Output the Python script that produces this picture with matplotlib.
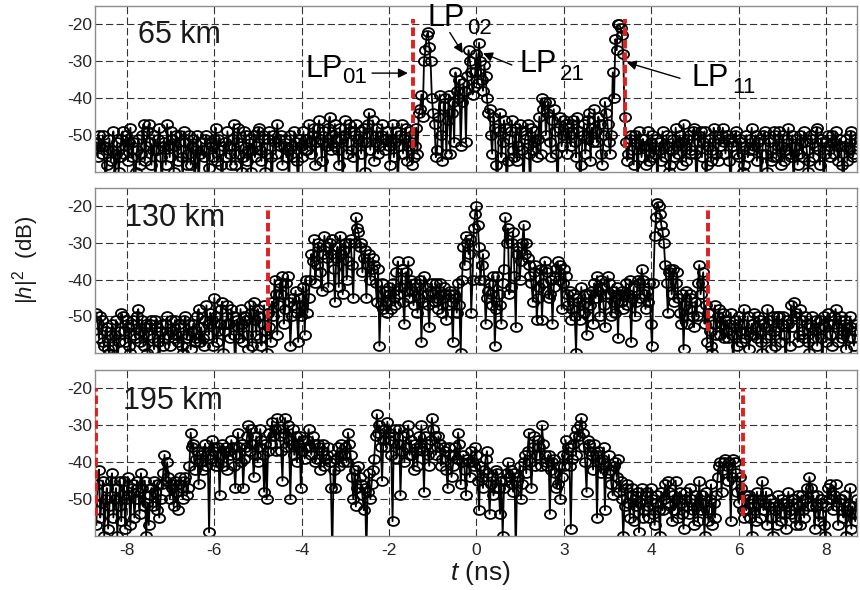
import numpy as np
import matplotlib.pyplot as plt
from matplotlib.path import Path
from matplotlib.transforms import Affine2D

plt.rcParams['font.family'] = ['Liberation Sans', 'DejaVu Sans']
plt.rcParams['mathtext.fontset'] = 'custom'
plt.rcParams['mathtext.rm'] = 'Liberation Sans'
plt.rcParams['mathtext.it'] = 'Liberation Sans:italic'
plt.rcParams['axes.unicode_minus'] = False

# time grid of the samples (ns); "mid" samples sit half a step after each main one
t_start = -8.7
t_step = 0.06

# |h|^2 in dB (values below -60 run off the bottom)
db_65 = [
    -52, -50, -55, -53, -58, -51, -54, -65, -52, -56,
    -49, -53, -57, -48, -52, -60, -51, -55, -47, -53,
    -47, -58, -50, -54, -48, -65, -52, -47, -56, -51,
    -53, -57, -50, -62, -52, -55, -58, -51, -54, -65,
    -52, -56, -50, -59, -53, -51, -57, -54, -65, -52,
    -49, -55, -51, -58, -48, -53, -56, -50, -54, -60,
    -50, -53, -48, -57, -51, -55, -49, -65, -52, -47,
    -53, -58, -51, -54, -50, -56, -52, -65, -53, -49,
    -51, -47, -55, -48, -52, -46, -57, -49, -53, -45,
    -50, -47, -54, -48, -65, -46, -52, -49, -56, -47,
    -51, -55, -48, -52, -44, -50, -57, -48, -53, -47,
    -54, -49, -58, -47, -52, -65, -50, -55, -48, -53,
    -52, -56, -48, -44, -39, -30, -23, -26, -40, -47,
    -54, -39, -57, -40, -46, -55, -41, -33, -40, -53,
    -36, -52, -27, -33, -37, -28, -25, -35, -31, -40,
    -43, -55, -48, -65, -44, -52, -48, -57, -49, -54,
    -48, -53, -49, -65, -50, -55, -48, -52, -56, -45,
    -40, -41, -44, -52, -46, -49, -65, -45, -50, -47,
    -48, -53, -46, -56, -49, -58, -47, -51, -44, -48,
    -43, -52, -47, -58, -41, -47, -55, -33, -24, -20,
    -21, -28, -52, -55, -50, -58, -52, -49, -56, -53,
    -53, -57, -50, -55, -65, -52, -49, -56, -53, -58,
    -51, -48, -55, -52, -47, -57, -50, -54, -48, -65,
    -52, -56, -49, -58, -51, -54, -50, -57, -53, -48,
    -55, -51, -65, -53, -49, -56, -52, -58, -50, -54,
    -48, -53, -57, -51, -55, -49, -60, -52, -56, -50,
    -53, -58, -50, -54, -48, -56, -65, -51, -55, -52,
    -49, -54, -57, -51, -53, -48, -58, -52, -55, -50,
    -56, -52, -49, -57, -53, -65, -51, -54, -49, -55,
    -52,
]
db_65_mid = [
    -56, -53, -50, -65, -54, -57, -49, -55, -60, -51,
    -55, -50, -52, -56, -65, -54, -58, -50, -57, -49,
    -52, -54, -65, -51, -56, -53, -58, -53, -49, -60,
    -50, -52, -56, -49, -58, -50, -53, -65, -50, -55,
    -54, -51, -65, -52, -56, -48, -51, -58, -53, -56,
    -53, -58, -47, -52, -55, -60, -49, -57, -51, -54,
    -56, -49, -54, -50, -60, -51, -56, -50, -55, -51,
    -50, -53, -56, -65, -53, -49, -57, -51, -56, -54,
    -54, -52, -50, -58, -48, -51, -52, -65, -48, -54,
    -53, -51, -58, -51, -50, -55, -47, -54, -50, -65,
    -49, -52, -60, -47, -54, -46, -52, -55, -50, -51,
    -51, -53, -52, -56, -49, -53, -47, -51, -57, -49,
    -58, -53, -55, -43, -45, -27, -22, -30, -44, -56,
    -45, -50, -42, -55, -39, -44, -52, -38, -35, -41,
    -38, -34, -30, -39, -33, -36, -30, -38, -34, -44,
    -50, -45, -58, -49, -56, -46, -65, -51, -46, -56,
    -57, -47, -54, -51, -47, -65, -54, -49, -51, -55,
    -43, -50, -41, -56, -43, -55, -48, -53, -46, -55,
    -50, -47, -52, -45, -65, -50, -55, -46, -57, -52,
    -49, -45, -55, -50, -44, -52, -50, -40, -27, -20,
    -23, -45, -57, -51, -54, -50, -65, -53, -51, -58,
    -49, -52, -56, -51, -54, -57, -53, -50, -60, -54,
    -56, -53, -50, -58, -53, -51, -55, -49, -55, -50,
    -49, -52, -65, -53, -57, -48, -55, -51, -50, -52,
    -50, -57, -52, -50, -55, -51, -60, -53, -56, -51,
    -54, -50, -52, -65, -50, -55, -51, -57, -49, -56,
    -49, -53, -57, -51, -55, -50, -53, -58, -50, -56,
    -52, -60, -50, -56, -49, -54, -51, -65, -52, -53,
    -50, -55, -53, -51, -58, -53, -57, -50, -56, -51,
]

db_130 = [
    -49, -56, -51, -58, -53, -60, -52, -55, -65, -54,
    -50, -57, -53, -60, -51, -56, -48, -54, -58, -52,
    -55, -51, -59, -53, -65, -52, -56, -50, -58, -54,
    -51, -57, -53, -60, -50, -55, -59, -52, -56, -48,
    -53, -58, -47, -55, -51, -45, -57, -52, -46, -54,
    -47, -56, -50, -65, -53, -48, -57, -51, -59, -49,
    -46, -55, -50, -58, -47, -60, -53, -46, -40, -55,
    -41, -39, -48, -39, -58, -45, -43, -57, -50, -42,
    -40, -45, -33, -29, -36, -31, -43, -28, -34, -30,
    -29, -46, -31, -28, -44, -30, -35, -29, -45, -23,
    -27, -30, -34, -45, -33, -37, -36, -46, -58, -41,
    -43, -49, -44, -41, -47, -35, -42, -46, -38, -35,
    -40, -47, -42, -45, -57, -39, -44, -53, -41, -46,
    -45, -41, -49, -44, -47, -43, -57, -45, -41, -60,
    -31, -28, -33, -49, -26, -20, -31, -36, -40, -45,
    -41, -47, -58, -39, -47, -41, -23, -26, -42, -27,
    -53, -31, -35, -25, -30, -36, -41, -38, -51, -42,
    -51, -35, -38, -44, -52, -39, -35, -36, -41, -39,
    -47, -51, -44, -60, -46, -42, -49, -55, -44, -43,
    -41, -39, -50, -42, -53, -39, -44, -43, -49, -56,
    -46, -48, -41, -44, -57, -42, -46, -41, -37, -44,
    -43, -41, -58, -28, -19, -22, -27, -36, -49, -37,
    -37, -41, -45, -52, -59, -43, -48, -45, -53, -50,
    -36, -41, -52, -57, -54, -60, -47, -50, -55, -49,
    -51, -56, -49, -65, -53, -50, -57, -48, -54, -59,
    -52, -49, -56, -51, -60, -53, -48, -55, -50, -58,
    -53, -57, -50, -65, -52, -47, -46, -49, -55, -51,
    -56, -52, -60, -50, -54, -58, -51, -65, -53, -49,
    -55, -52, -48, -57, -50, -54, -59, -56, -53, -58,
    -52,
]
db_130_mid = [
    -52, -50, -57, -54, -59, -55, -58, -51, -57, -49,
    -54, -51, -58, -52, -55, -50, -57, -51, -53, -60,
    -52, -56, -51, -57, -54, -58, -52, -55, -51, -56,
    -55, -52, -58, -51, -56, -52, -54, -57, -50, -57,
    -56, -51, -52, -49, -58, -50, -54, -48, -60, -52,
    -52, -48, -55, -51, -56, -52, -50, -55, -47, -58,
    -51, -48, -56, -52, -54, -49, -57, -50, -44, -47,
    -44, -52, -41, -46, -50, -47, -49, -45, -47, -55,
    -49, -40, -35, -41, -30, -38, -33, -31, -42, -33,
    -37, -34, -42, -33, -32, -40, -30, -36, -30, -26,
    -31, -38, -32, -36, -40, -34, -41, -37, -47, -48,
    -46, -42, -48, -45, -38, -44, -37, -52, -43, -45,
    -43, -41, -49, -40, -46, -42, -47, -43, -44, -41,
    -48, -44, -42, -51, -44, -46, -44, -49, -47, -40,
    -36, -30, -29, -40, -22, -25, -40, -33, -52, -43,
    -44, -39, -48, -44, -52, -37, -30, -44, -30, -39,
    -33, -40, -30, -33, -34, -39, -46, -36, -45, -37,
    -41, -37, -45, -40, -42, -37, -40, -48, -37, -44,
    -43, -48, -50, -45, -51, -47, -44, -50, -47, -52,
    -45, -43, -40, -47, -44, -41, -50, -46, -42, -44,
    -43, -44, -47, -40, -45, -50, -40, -45, -40, -48,
    -46, -52, -41, -23, -20, -25, -30, -41, -38, -44,
    -46, -38, -49, -44, -47, -52, -44, -50, -46, -41,
    -44, -38, -47, -49, -58, -52, -55, -48, -52, -56,
    -54, -52, -55, -51, -58, -54, -52, -56, -50, -55,
    -55, -53, -50, -57, -52, -56, -51, -59, -54, -50,
    -50, -52, -55, -51, -58, -53, -50, -57, -48, -54,
    -50, -57, -53, -56, -51, -53, -56, -50, -57, -52,
    -58, -50, -53, -51, -56, -51, -53, -50, -56, -54,
]

db_195 = [
    -57, -42, -51, -60, -47, -52, -43, -50, -60, -45,
    -49, -58, -44, -57, -46, -50, -48, -43, -52, -60,
    -57, -47, -45, -53, -55, -46, -38, -40, -50, -47,
    -45, -53, -44, -50, -44, -47, -32, -35, -39, -46,
    -38, -37, -41, -59, -34, -36, -40, -49, -35, -37,
    -42, -38, -36, -47, -32, -40, -47, -36, -30, -31,
    -44, -33, -36, -34, -48, -50, -32, -29, -31, -28,
    -33, -45, -28, -30, -50, -31, -33, -36, -47, -34,
    -36, -31, -38, -35, -39, -36, -37, -41, -38, -40,
    -65, -47, -36, -38, -40, -36, -32, -38, -50, -52,
    -41, -46, -53, -65, -43, -46, -39, -27, -30, -45,
    -31, -29, -34, -56, -31, -35, -49, -33, -36, -30,
    -34, -42, -37, -33, -30, -48, -35, -41, -28, -33,
    -36, -35, -39, -37, -47, -38, -41, -36, -32, -46,
    -38, -49, -40, -37, -41, -38, -53, -44, -42, -37,
    -54, -44, -47, -43, -54, -60, -45, -40, -42, -48,
    -65, -44, -50, -40, -43, -32, -47, -33, -38, -36,
    -30, -38, -41, -54, -40, -43, -46, -50, -38, -34,
    -36, -58, -35, -38, -33, -28, -36, -48, -35, -38,
    -35, -55, -40, -39, -53, -43, -42, -49, -40, -39,
    -45, -60, -47, -51, -49, -56, -52, -59, -47, -53,
    -48, -55, -50, -57, -49, -60, -53, -46, -45, -52,
    -49, -45, -55, -51, -58, -48, -54, -50, -57, -52,
    -45, -49, -60, -53, -50, -57, -55, -44, -40, -42,
    -39, -45, -56, -39, -43, -51, -47, -55, -53, -49,
    -60, -52, -48, -55, -45, -51, -57, -50, -60, -53,
    -49, -56, -51, -58, -48, -54, -50, -57, -52, -49,
    -55, -47, -44, -52, -58, -49, -54, -51, -60, -47,
    -46, -53, -46, -57, -50, -55, -60, -52, -58, -54,
    -50,
]
db_195_mid = [
    -46, -55, -45, -50, -58, -45, -55, -47, -52, -56,
    -45, -50, -49, -47, -55, -45, -54, -47, -45, -51,
    -49, -52, -48, -46, -50, -43, -45, -44, -46, -52,
    -48, -46, -47, -45, -49, -41, -36, -42, -37, -40,
    -42, -35, -38, -39, -37, -41, -36, -38, -41, -36,
    -37, -34, -41, -38, -36, -35, -39, -33, -37, -35,
    -38, -40, -31, -38, -35, -37, -35, -33, -37, -31,
    -37, -32, -36, -34, -35, -38, -40, -33, -37, -39,
    -34, -36, -33, -40, -35, -42, -35, -39, -36, -47,
    -42, -39, -41, -35, -38, -40, -35, -44, -42, -47,
    -44, -49, -47, -48, -50, -42, -33, -32, -36, -34,
    -36, -32, -38, -33, -39, -31, -37, -40, -32, -38,
    -38, -35, -41, -36, -37, -33, -38, -34, -31, -38,
    -33, -41, -36, -42, -36, -44, -38, -39, -35, -40,
    -42, -39, -44, -40, -36, -45, -41, -47, -39, -43,
    -46, -49, -42, -47, -45, -47, -43, -44, -46, -43,
    -45, -41, -46, -38, -37, -40, -36, -41, -34, -41,
    -35, -40, -38, -42, -39, -47, -41, -44, -41, -38,
    -41, -39, -33, -31, -30, -32, -40, -34, -37, -42,
    -38, -37, -43, -36, -41, -38, -46, -41, -44, -48,
    -50, -52, -46, -55, -47, -50, -48, -51, -55, -49,
    -52, -47, -54, -51, -53, -48, -50, -51, -48, -56,
    -53, -50, -48, -54, -50, -52, -47, -53, -49, -56,
    -53, -51, -48, -56, -46, -51, -49, -41, -48, -40,
    -41, -40, -44, -40, -48, -44, -53, -49, -50, -55,
    -50, -56, -51, -50, -53, -48, -52, -55, -51, -57,
    -52, -50, -54, -51, -53, -50, -55, -49, -57, -53,
    -50, -52, -47, -49, -52, -56, -50, -57, -52, -50,
    -50, -49, -52, -50, -53, -49, -53, -47, -52, -56,
]

distances = ['65 km', '130 km', '195 km']
red_t = [[-1.45, 3.40], [-4.77, 5.30], [-8.71, 6.11]]
red_top = [-18.5, -20, -20]
red_bottom = [-53.5, -54, -54.5]

x_ticks = [-8, -6, -4, -2, 0, 2, 4, 6, 8]
x_tick_labels = ['-8', '-6', '-4', '-2', '0', '3', '4', '6', '8']
y_ticks = [-20, -30, -40, -50]
y_tick_labels = ['-20', '-30', '-40', '-50']

# mode labels in the 65 km panel: name, subscript, text centre, subscript left, arrow from, arrow to
lp_names = ['LP', 'LP', 'LP', 'LP']
lp_subs = ['01', '02', '21', '11']
lp_text = [(-3.49, -32.2), (-0.70, -18.2), (1.41, -30.8), (5.34, -34.5)]
lp_sub = [(-3.08, -34.3), (-0.22, -21.0), (1.91, -33.5), (5.85, -37.2)]
lp_from = [(-2.39, -33.2), (-0.61, -22.2), (0.81, -31.0), (4.66, -34.6)]
lp_to = [(-1.57, -33.2), (-0.31, -27.8), (0.15, -27.8), (3.44, -30.3)]


def merge(main, mid):
    # interleave main samples and the half-step samples
    main = np.array(main, dtype=float)
    mid = np.array(mid, dtype=float)
    t_main = t_start + t_step * np.arange(len(main))
    t = np.empty(len(main) + len(mid))
    db = np.empty(len(main) + len(mid))
    t[0::2] = t_main
    t[1::2] = t_main[:len(mid)] + t_step / 2
    db[0::2] = main
    db[1::2] = mid
    return t, db


if __name__ == '__main__':
    fig = plt.figure(figsize=(8.6, 5.9), dpi=100)
    boxes = [[0.1105, 0.7085, 0.886, 0.2814],
             [0.1105, 0.4017, 0.886, 0.2797],
             [0.1105, 0.0915, 0.886, 0.2814]]
    series = [(db_65, db_65_mid), (db_130, db_130_mid), (db_195, db_195_mid)]
    label_pos = [(0.056, 0.825), (0.039, 0.82), (0.037, 0.813)]

    # slightly wide open circles like the original
    ring = Affine2D().scale(1.0, 0.8).transform_path(Path.unit_circle())

    axes = []
    for i in range(3):
        ax = fig.add_axes(boxes[i])
        t, db = merge(*series[i])
        ax.plot(t, db, '-', color='k', lw=1.3, marker=ring, ms=8.0,
                mfc='none', mec='k', mew=1.3)
        for xr in red_t[i]:
            ax.plot([xr, xr], [red_bottom[i], red_top[i]], color='#e02020',
                    lw=2.8, ls=(0, (2.2, 1.0)), zorder=4)
        ax.set_xlim(-8.73, 8.71)
        ax.set_ylim(-60, -15)
        ax.set_xticks(x_ticks)
        ax.set_yticks(y_ticks)
        ax.set_yticklabels(y_tick_labels)
        ax.grid(True, color='0.2', lw=0.8, ls=(0, (6.5, 3)))
        ax.tick_params(length=0, labelsize=12.5, colors='0.15')
        ax.tick_params(axis='y', pad=2)
        ax.tick_params(axis='x', pad=5)
        for s in ax.spines.values():
            s.set_color('0.55')
            s.set_linewidth(1.0)
        ax.text(label_pos[i][0], label_pos[i][1], distances[i], transform=ax.transAxes,
                ha='left', va='center', fontsize=22, color='0.1')
        if i < 2:
            ax.tick_params(labelbottom=False)
        else:
            ax.set_xticklabels(x_tick_labels)
        axes.append(ax)

    ax = axes[0]
    for k in range(len(lp_names)):
        ax.text(lp_text[k][0], lp_text[k][1], lp_names[k], ha='center', va='center',
                fontsize=22, zorder=6)
        ax.text(lp_sub[k][0], lp_sub[k][1], lp_subs[k], ha='left', va='center',
                fontsize=16, zorder=6)
        ax.annotate('', xy=lp_to[k], xytext=lp_from[k],
                    arrowprops=dict(arrowstyle='-|>', color='k', lw=1.0,
                                    mutation_scale=14, shrinkA=0, shrinkB=0),
                    zorder=6)

    fig.text(0.03, 0.56, r'$|h|^2$  (dB)', rotation=90, ha='center', va='center',
             fontsize=16, color='0.1')
    fig.text(0.558, 0.028, r'$t$ (ns)', ha='center', va='center', fontsize=19,
             color='0.1')

    fig.savefig('out.png', dpi=100)
